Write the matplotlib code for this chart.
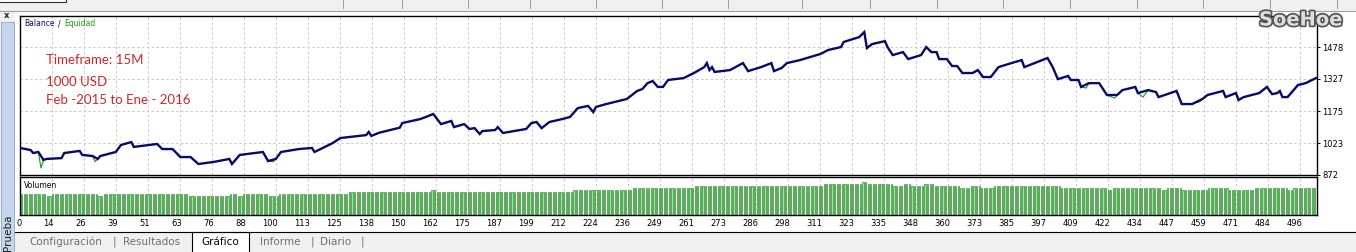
import matplotlib
matplotlib.use('Agg')
import matplotlib.pyplot as plt
import matplotlib.patheffects as pe
from matplotlib.patches import Rectangle
from matplotlib.lines import Line2D
import numpy as np

# balance curve (trade number, account balance)
bal_trade = [0, 4, 5, 7, 9, 10, 16, 17, 23, 24, 28, 30, 31, 37, 39, 43, 44, 53, 55, 59,
             62, 66, 69, 75, 81, 82, 85, 94, 96, 99, 101, 108, 113, 114, 121, 124, 134, 135, 136, 139,
             147, 148, 155, 158, 160, 163, 167, 168, 172, 174, 176, 178, 179, 184, 185, 187, 196, 198, 200, 202,
             205, 210, 213, 216, 220, 222, 223, 227, 235, 239, 241, 243, 245, 247, 249, 251, 257, 261, 265, 266,
             267, 268, 269, 275, 280, 282, 287, 291, 292, 295, 297, 302, 310, 313, 318, 319, 325, 327, 328, 330,
             335, 336, 338, 342, 344, 349, 351, 353, 355, 356, 359, 361, 363, 365, 369, 371, 373, 376, 379, 384,
             388, 389, 395, 398, 400, 402, 406, 407, 410, 411, 414, 418, 421, 425, 427, 432, 433, 437, 440, 441,
             448, 450, 454, 458, 460, 466, 467, 471, 472, 474, 480, 483, 485, 487, 488, 489, 491, 495, 498, 502]
bal_value = [1000, 990, 976, 981, 943, 948, 952, 976, 986, 967, 962, 948, 962, 981, 1014, 1028, 1005, 1019, 995, 995,
             957, 957, 924, 934, 948, 924, 967, 981, 938, 948, 981, 995, 1000, 981, 1023, 1047, 1061, 1076, 1057, 1072,
             1096, 1118, 1137, 1151, 1161, 1113, 1128, 1099, 1113, 1090, 1094, 1066, 1080, 1085, 1099, 1071, 1090, 1118, 1123, 1094,
             1123, 1137, 1147, 1189, 1199, 1170, 1194, 1208, 1232, 1270, 1279, 1307, 1317, 1289, 1289, 1322, 1331, 1355, 1383, 1402,
             1369, 1383, 1360, 1369, 1402, 1364, 1383, 1402, 1364, 1379, 1402, 1416, 1445, 1464, 1478, 1502, 1525, 1549, 1473, 1492,
             1506, 1478, 1440, 1454, 1421, 1440, 1478, 1454, 1454, 1421, 1421, 1388, 1388, 1355, 1355, 1369, 1336, 1336, 1383, 1402,
             1416, 1383, 1412, 1426, 1383, 1326, 1341, 1322, 1322, 1289, 1307, 1307, 1251, 1251, 1274, 1289, 1260, 1274, 1265, 1241,
             1270, 1208, 1208, 1232, 1251, 1270, 1241, 1260, 1227, 1241, 1260, 1289, 1255, 1260, 1270, 1241, 1241, 1298, 1307, 1331]
assert len(bal_trade) == len(bal_value)

# where equity dips below balance (floating loss)
eq_trade = [8, 29, 98, 413, 424, 435, 457]
eq_value = [905, 935, 935, 1284, 1236, 1241, 1219]

# lot size per trade, run-length: lot and last trade of the run
vol_lots = [0.10, 0.09, 0.10, 0.09, 0.10, 0.09, 0.10, 0.09, 0.10, 0.09,
            0.10, 0.11, 0.12, 0.11, 0.12, 0.13, 0.14, 0.15, 0.16, 0.15,
            0.14, 0.15, 0.14, 0.15, 0.14, 0.13, 0.14, 0.13, 0.14, 0.13,
            0.12, 0.13, 0.12, 0.13, 0.12, 0.13, 0.12, 0.13, 0.12, 0.13]
vol_until = [10, 12, 30, 32, 65, 81, 84, 86, 96, 100,
             127, 159, 161, 214, 237, 261, 311, 326, 328, 338,
             342, 345, 350, 354, 364, 368, 372, 377, 403, 421,
             423, 442, 444, 450, 460, 468, 478, 491, 493, 502]

xtick_labels = ['0', '14', '26', '39', '51', '63', '76', '88', '100', '113', '125', '138', '150', '162',
                '175', '187', '199', '212', '224', '236', '249', '261', '273', '286', '298', '311', '323',
                '335', '348', '360', '373', '385', '397', '409', '422', '434', '447', '459', '471', '484', '496']
ytick_vals = [872, 1023, 1175, 1327, 1478]
tabs = ['Configuración', 'Resultados', 'Gráfico', 'Informe', 'Diario']

W, H = 1356, 252
N_TRADES = 502.4
Y_TOP = 1625


def fx(px):
    return px / W


def fy(py):
    return 1 - py / H


fig = plt.figure(figsize=(W / 100, H / 100), dpi=100)
fig.patch.set_facecolor('white')


def rect(x0, y0, x1, y1, **kw):
    fig.add_artist(Rectangle((fx(x0), fy(y1)), fx(x1) - fx(x0), fy(y0) - fy(y1),
                             transform=fig.transFigure, **kw))


def hline(x0, x1, y, **kw):
    fig.add_artist(Line2D([fx(x0), fx(x1)], [fy(y), fy(y)], transform=fig.transFigure, **kw))


# window chrome
rect(0, 0, W, 11, facecolor='#f0f0f0', edgecolor='none')
rect(-1, -3, 66, 2, facecolor='white', edgecolor='#303030', lw=0.8)
for sx in [343, 402, 468, 530, 596, 662, 728, 802, 870, 937, 1003, 1070, 1137, 1203, 1270, 1337]:
    fig.add_artist(Line2D([fx(sx)] * 2, [fy(0), fy(8)], transform=fig.transFigure, color='#909090', lw=0.6))
hline(0, W, 11, color='#a0a0a0', lw=0.8)
rect(0, 11, 15, H, facecolor='#f0f0f0', edgecolor='none')
fig.text(fx(7), fy(16), 'x', ha='center', va='center', fontsize=6, fontweight='bold', color='#202020')
rect(1, 22, 14, H + 2, facecolor='#c5d5ec', edgecolor='#8fa5c5', lw=0.6)
fig.text(fx(7.5), fy(233), 'Prueba', rotation=90, ha='center', va='center', fontsize=7.5, color='#202020')

# bottom tab strip
rect(15, 232, W, H, facecolor='#f0f0f0', edgecolor='none')
hline(15, W, 232, color='black', lw=0.8)
rect(192, 232, 249, H + 2, facecolor='white', edgecolor='black', lw=0.8)
tab_x = [66, 152, 220, 280, 336]
for t, x in zip(tabs, tab_x):
    fig.text(fx(x), fy(242), t, ha='center', va='center', fontsize=7.5,
             color='black' if t == 'Gráfico' else '#707070')
for sx in [114, 312, 362]:
    fig.text(fx(sx), fy(242), '|', ha='center', va='center', fontsize=8, color='#707070')

# chart panels
L, R = 20.3, 1317
ax = fig.add_axes([fx(L), fy(175), fx(R) - fx(L), fy(16) - fy(175)])
axv = fig.add_axes([fx(L), fy(215.3), fx(R) - fx(L), fy(176.8) - fy(215.3)])

grid_pos = np.arange(len(xtick_labels)) * 12.4
grid_kw = dict(color='#c8c8c8', linestyle=(0, (2.5, 2.5)), linewidth=0.7)

for a in (ax, axv):
    a.set_xlim(0, N_TRADES)
    for s in a.spines.values():
        s.set_linewidth(1.0)
        s.set_color('black')
    a.set_xticks(grid_pos[1:])
    a.tick_params(axis='x', length=0, labelbottom=False)
    a.grid(True, axis='x', **grid_kw)
    a.set_axisbelow(True)

# equity (under) and balance
eq_x = np.array(bal_trade + eq_trade)
eq_y = np.array(bal_value + eq_value)
order = np.argsort(eq_x, kind='stable')
ax.plot(eq_x[order], eq_y[order], color='#10a010', lw=0.8, zorder=2)
ax.plot(bal_trade, bal_value, color='#0a0a6e', lw=1.7, zorder=3, solid_joinstyle='miter')

ax.set_ylim(872, Y_TOP)
ax.yaxis.tick_right()
ax.set_yticks(ytick_vals)
ax.set_yticklabels([str(v) for v in ytick_vals])
ax.tick_params(axis='y', length=2.5, width=0.7, pad=1.5, labelsize=6)
ax.grid(True, axis='y', **grid_kw)

# legend text & notes
fig.text(fx(24), fy(24), 'Balance', color='#0a0a6e', fontsize=5.5, va='center')
fig.text(fx(57.5), fy(24), '/', color='black', fontsize=5.5, va='center')
fig.text(fx(64), fy(24), 'Equidad', color='#10a010', fontsize=5.5, va='center')
notes = ['Timeframe: 15M', '1000 USD', 'Feb -2015 to Ene - 2016']
for txt, yy in zip(notes, [60, 81.5, 100.5]):
    fig.text(fx(46), fy(yy), txt, color='#c82828', fontsize=9.5, family='Lato', va='center')

fig.text(fx(1301), fy(20), 'SoeHoe', ha='center', va='center', fontsize=14, fontweight='heavy',
         color='#dedede', path_effects=[pe.withStroke(linewidth=2.5, foreground='#555555')])

# volume histogram
counts = np.diff([0] + vol_until)
lots = np.repeat(vol_lots, counts)
axv.bar(np.arange(len(lots)) + 0.5, lots, width=0.45, color='#9be69b', edgecolor='#2f8f2f', lw=0.5, zorder=2)
axv.set_ylim(0, 0.183)
axv.set_yticks([])
axv.text(0.003, 0.78, 'Volumen', transform=axv.transAxes, fontsize=5.5, color='black', va='center')

for p, lbl in zip(grid_pos, xtick_labels):
    axv.annotate(lbl, xy=(p, 0), xycoords=('data', 'axes fraction'), xytext=(1.2, -3),
                 textcoords='offset points', ha='right', va='top', fontsize=6)

fig.savefig('out.png', dpi=100, facecolor='white')
